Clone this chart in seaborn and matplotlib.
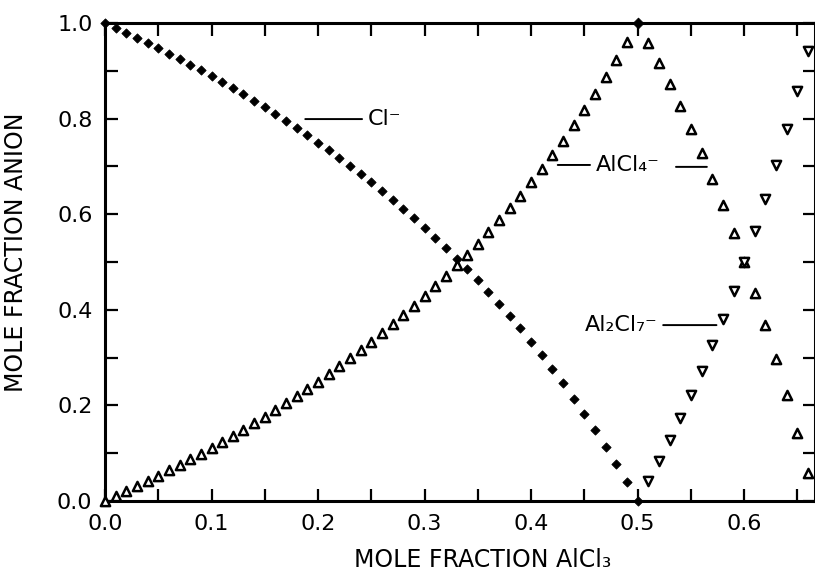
import matplotlib
matplotlib.use("Agg")
import matplotlib.pyplot as plt
import seaborn as sns
from matplotlib.ticker import MultipleLocator

# ---- data ----
x_cl = [0.00, 0.01, 0.02, 0.03, 0.04, 0.05, 0.06, 0.07, 0.08, 0.09,
        0.10, 0.11, 0.12, 0.13, 0.14, 0.15, 0.16, 0.17, 0.18, 0.19,
        0.20, 0.21, 0.22, 0.23, 0.24, 0.25, 0.26, 0.27, 0.28, 0.29,
        0.30, 0.31, 0.32, 0.33, 0.34, 0.35, 0.36, 0.37, 0.38, 0.39,
        0.40, 0.41, 0.42, 0.43, 0.44, 0.45, 0.46, 0.47, 0.48, 0.49, 0.50]
y_cl = [1.000, 0.990, 0.980, 0.969, 0.958, 0.947, 0.936, 0.925, 0.913, 0.901,
        0.889, 0.876, 0.864, 0.851, 0.837, 0.824, 0.810, 0.795, 0.780, 0.765,
        0.750, 0.734, 0.718, 0.701, 0.684, 0.667, 0.649, 0.630, 0.611, 0.592,
        0.571, 0.551, 0.529, 0.507, 0.485, 0.462, 0.438, 0.413, 0.387, 0.361,
        0.333, 0.305, 0.276, 0.246, 0.214, 0.182, 0.148, 0.113, 0.077, 0.039, 0.000]

x_alcl4 = [0.00, 0.01, 0.02, 0.03, 0.04, 0.05, 0.06, 0.07, 0.08, 0.09,
           0.10, 0.11, 0.12, 0.13, 0.14, 0.15, 0.16, 0.17, 0.18, 0.19,
           0.20, 0.21, 0.22, 0.23, 0.24, 0.25, 0.26, 0.27, 0.28, 0.29,
           0.30, 0.31, 0.32, 0.33, 0.34, 0.35, 0.36, 0.37, 0.38, 0.39,
           0.40, 0.41, 0.42, 0.43, 0.44, 0.45, 0.46, 0.47, 0.48, 0.49,
           0.51, 0.52, 0.53, 0.54, 0.55, 0.56, 0.57, 0.58, 0.59,
           0.60, 0.61, 0.62, 0.63, 0.64, 0.65, 0.66]
y_alcl4 = [0.000, 0.010, 0.020, 0.031, 0.042, 0.053, 0.064, 0.075, 0.087, 0.099,
           0.111, 0.124, 0.136, 0.149, 0.163, 0.176, 0.190, 0.205, 0.220, 0.235,
           0.250, 0.266, 0.282, 0.299, 0.316, 0.333, 0.351, 0.370, 0.389, 0.408,
           0.429, 0.449, 0.471, 0.493, 0.515, 0.538, 0.562, 0.587, 0.613, 0.639,
           0.667, 0.695, 0.724, 0.754, 0.786, 0.818, 0.852, 0.887, 0.923, 0.961,
           0.959, 0.917, 0.872, 0.826, 0.778, 0.727, 0.674, 0.619, 0.561,
           0.500, 0.436, 0.368, 0.297, 0.222, 0.143, 0.059]

x_al2cl7 = [0.51, 0.52, 0.53, 0.54, 0.55, 0.56, 0.57, 0.58, 0.59,
            0.60, 0.61, 0.62, 0.63, 0.64, 0.65, 0.66]
y_al2cl7 = [0.041, 0.083, 0.128, 0.174, 0.222, 0.273, 0.326, 0.381, 0.439,
            0.500, 0.564, 0.632, 0.703, 0.778, 0.857, 0.941]

# peak mark drawn on the frame at x = 0.5
x_peak = [0.50]
y_peak = [1.00]

x_ticks = [0.0, 0.1, 0.2, 0.3, 0.4, 0.5, 0.6]
x_ticklabels = ["0.0", "0.1", "0.2", "0.3", "0.4", "0.5", "0.6"]
y_ticks = [0.0, 0.2, 0.4, 0.6, 0.8, 1.0]
y_ticklabels = ["0.0", "0.2", "0.4", "0.6", "0.8", "1.0"]

sns.set_style("ticks")
plt.rcParams["font.family"] = ["DejaVu Sans"]
plt.rcParams["text.color"] = "black"
plt.rcParams["axes.labelcolor"] = "black"
plt.rcParams["xtick.color"] = "black"
plt.rcParams["ytick.color"] = "black"

fig = plt.figure(figsize=(8.15, 5.83), dpi=100)
ax = fig.add_axes([105 / 815, 82 / 583, 710 / 815, 478 / 583])

sns.scatterplot(x=x_cl, y=y_cl, marker="D", s=22, color="black",
                edgecolor="black", linewidth=0.6, ax=ax, clip_on=False, zorder=3)
sns.scatterplot(x=x_peak, y=y_peak, marker="D", s=30, color="black",
                edgecolor="black", linewidth=0.6, ax=ax, clip_on=False, zorder=3)
sns.scatterplot(x=x_alcl4, y=y_alcl4, marker="^", s=44, color="white",
                edgecolor="black", linewidth=1.8, ax=ax, clip_on=False, zorder=3)
sns.scatterplot(x=x_al2cl7, y=y_al2cl7, marker="v", s=44, color="white",
                edgecolor="black", linewidth=1.8, ax=ax, clip_on=False, zorder=3)

ax.set_xlim(0, 0.6665)
ax.set_ylim(0, 1.0)
ax.set_xticks(x_ticks)
ax.set_xticklabels(x_ticklabels)
ax.set_yticks(y_ticks)
ax.set_yticklabels(y_ticklabels)
ax.xaxis.set_minor_locator(MultipleLocator(0.05))
ax.yaxis.set_minor_locator(MultipleLocator(0.1))
ax.tick_params(which="both", direction="in", top=True, right=True,
               length=9, width=1.6, color="black")
ax.tick_params(which="major", labelsize=16, pad=9, labelcolor="black")
for sp in ax.spines.values():
    sp.set_linewidth(2.2)
    sp.set_color("black")

ax.set_xlabel("MOLE FRACTION AlCl₃", fontsize=17, color="black")
ax.xaxis.set_label_coords(0.532, -0.098)
ax.set_ylabel("MOLE FRACTION ANION", fontsize=17, color="black")
ax.yaxis.set_label_coords(-0.108, 0.52)

arrow = dict(arrowstyle="-", lw=1.4, color="black", shrinkA=2, shrinkB=0)
ax.annotate("Cl⁻", xy=(0.188, 0.799), xytext=(0.247, 0.799), color="black",
            ha="left", va="center", fontsize=16, arrowprops=arrow)
ax.annotate("AlCl₄⁻", xy=(0.425, 0.703), xytext=(0.461, 0.703), color="black",
            ha="left", va="center", fontsize=16, arrowprops=arrow)
ax.annotate("", xy=(0.565, 0.699), xytext=(0.536, 0.699),
            arrowprops=dict(arrowstyle="-", lw=1.4, color="black",
                            shrinkA=0, shrinkB=0))
ax.annotate("Al₂Cl₇⁻", xy=(0.574, 0.368), xytext=(0.450, 0.368), color="black",
            ha="left", va="center", fontsize=16, arrowprops=arrow)

fig.savefig("out.png", dpi=100)
